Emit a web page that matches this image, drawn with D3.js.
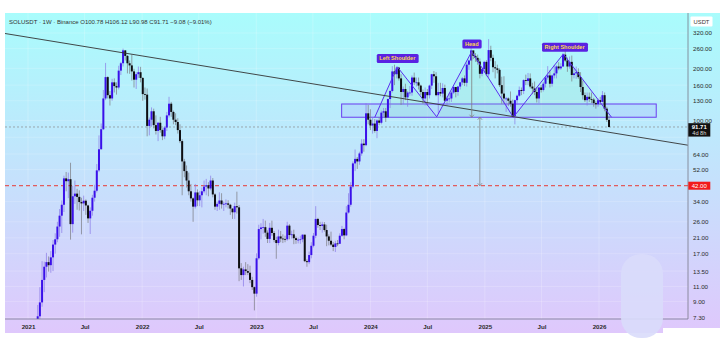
<!DOCTYPE html>
<html lang="en">
<head>
  <meta charset="UTF-8">
  <title>SOLUSDT 1W</title>
  <style>
    html, body { margin: 0; padding: 0; background: #fff; }
    svg { display: block; font-family: "Liberation Sans", Arial, sans-serif; }
    .axis text { fill: #2b2b2b; font-size: 6.2px; }
    .axis path, .axis line { stroke: none; }
    .tag { font-weight: bold; fill: #ffd84a; font-size: 5.6px; }
  </style>
</head>
<body>
  <div id="chart"></div>

  <script src="https://d3js.org/d3.v7.min.js"></script>
  <script>
    // weekly candles, first week starts Mon 2021-01-04, open = previous close
    const firstWeek = Date.UTC(2021, 0, 4);
    const firstOpen = 1.8;

    const closes = [
      // 2021
      3.4, 3.3, 3.7, 4.2, 7.4, 8.9, 12.0, 14.3, 15.2, 14.6, 16.2, 19.2, 20.6, 24.4, 28.2, 32.6, 46.3, 44.6, 45.8, 25.2,
      36.5, 37.8, 36.2, 33.8, 33.2, 34.4, 32.3, 27.2, 30.1, 35.8, 39.3, 51.5, 68.2, 89, 134, 178, 140, 134, 166, 158,
      155, 194, 214, 254, 236, 214, 208, 192, 172, 185, 190, 176,
      // 2022
      142, 141, 93, 101, 113, 94, 87, 97, 88, 81, 91, 107, 125, 112, 101, 98, 88, 76, 58, 51,
      45, 39, 35.5, 31.8, 38.4, 34.6, 37, 39, 41.5, 42.3, 40.5, 45, 37.4, 31.8, 33, 34.5, 32.8, 33, 33.2, 32.6,
      31, 29.5, 32, 31.5, 14, 12.8, 13.8, 13.5, 13.2, 12, 10.9, 10,
      // 2023
      16.0, 23.6, 24.1, 24.2, 22.5, 20.7, 24.0, 22.4, 20.4, 19.6, 21.4, 20.8, 20.7, 20.6, 24.7, 21.8, 22.0, 20.9, 20.4, 20.5,
      20.6, 21.9, 15.4, 15.2, 16.7, 18.9, 21.6, 27.0, 24.9, 24.6, 25.1, 23.3, 21.4, 20.2, 19.2, 18.6, 19.5, 19.4, 21.6, 23.6,
      21.7, 29.4, 32.6, 41.5, 56.5, 60, 58, 64.5, 73.5, 72, 110, 101,
      // 2024
      93.5, 96, 87, 100, 97, 111, 113, 104, 133, 148, 192, 185, 202, 175, 146, 152, 136, 145, 145, 177,
      166, 166, 159, 146, 134, 146, 140, 159, 185, 180, 140, 146, 143, 154, 130, 134, 134, 145, 156, 146,
      157, 166, 175, 165, 210, 222, 254, 236, 230, 219, 186, 198,
      // 2025
      218, 185, 255, 230, 203, 200, 196, 160, 143, 134, 134, 130, 125, 106, 131, 139, 150, 148, 171, 169,
      175, 157, 153, 146, 134, 155, 150, 163, 177, 182, 163, 182, 187, 205, 200, 205, 240, 222, 205, 218,
      183, 187, 190, 178, 156, 140, 131, 137, 133, 132, 126, 124, 131,
      // 2026
      128, 140, 117, 100.78, 91.71
    ];
    const highs = [
      4.2, 4.0, 4.1, 4.9, 8.6, 10.9, 15.4, 15.3, 17.2, 16.4, 17.6, 20.4, 22.3, 26.0, 30.8, 34.5, 48.0, 50.4, 50.0, 57.0,
      42.0, 45.0, 40.3, 39.5, 35.8, 36.8, 35.0, 32.6, 31.5, 37.2, 42.5, 56.0, 82.0, 96, 150, 215, 180, 148, 174, 175,
      166, 207, 218, 260, 254, 239, 222, 240, 199, 190, 205, 204,
      178, 155, 153, 104, 119, 117, 107, 98, 105, 90, 93, 112, 137, 128, 114, 110, 103, 95, 78, 60,
      55, 50, 43, 36, 43, 40, 39, 41, 45, 46, 44, 48, 46.5, 38, 34, 38.5, 38, 34, 35, 34.6,
      33, 31, 33.5, 38.8, 32.5, 15, 14.3, 15.2, 14.8, 14.5, 12.5, 11,
      17.1, 25.0, 25.5, 27.0, 26.4, 23.2, 25.6, 26.4, 23.0, 21.3, 23.4, 23.0, 22.0, 21.6, 26.0, 25.2, 23.1, 23.4, 21.4, 21.1,
      21.6, 22.0, 21.9, 15.8, 17.5, 19.8, 22.4, 32.0, 27.4, 26.0, 26.0, 25.9, 25.0, 22.0, 22.8, 19.9, 20.2, 20.4, 22.3, 24.6,
      24.0, 32.0, 38.0, 44.0, 58.0, 68, 61.5, 66, 78, 78, 126, 123,
      116, 104, 102, 102, 104, 114, 118, 118, 134, 150, 206, 210, 205, 204, 185, 157, 163, 148, 158, 182,
      189, 177, 177, 161, 151, 155, 152, 161, 186, 193, 190, 165, 165, 164, 161, 138, 144, 148, 159, 156,
      158, 167, 178, 182, 216, 225, 264, 250, 245, 240, 228, 202,
      221, 223, 295, 270, 240, 220, 210, 200, 179, 180, 137, 136, 147, 132, 132, 141, 157, 155, 173, 184,
      188, 187, 165, 168, 156, 156, 160, 167, 178, 206, 195, 184, 209, 208, 217, 214, 246, 253, 231, 234,
      237, 200, 205, 200, 190, 170, 145, 145, 145, 145, 135, 129, 134,
      137, 148, 145, 120, 106.12
    ];
    const lows = [
      1.8, 2.6, 2.9, 3.3, 4.0, 6.9, 8.4, 10.2, 12.4, 13.4, 13.2, 13.5, 17.0, 19.8, 21.3, 22.4, 29.6, 39.0, 35.6, 20.5,
      22.5, 33.0, 30.5, 30.2, 22.0, 30.0, 28.5, 25.6, 22.1, 28.2, 34.0, 38.4, 50.3, 68, 88, 131, 134, 122, 130, 145,
      141, 151, 183, 205, 222, 187, 186, 170, 155, 152, 176, 166,
      130, 132, 81, 82, 92, 90, 83, 76, 85, 77, 78, 87, 104, 105, 95, 94, 84, 74, 37, 47,
      41, 37, 34, 26, 31, 32, 32, 31.5, 38, 37, 36.5, 39.5, 36, 30.5, 30, 30.5, 31, 30, 31.5, 31,
      28.5, 27, 27, 29, 11.8, 12, 11, 12.8, 12.8, 11.5, 10.5, 8.0,
      9.6, 15.7, 20.6, 22.2, 21.3, 19.6, 19.6, 21.6, 19.8, 15.9, 19.0, 19.8, 19.6, 19.8, 20.2, 20.6, 20.8, 19.3, 19.4, 19.5,
      19.4, 19.8, 15.2, 14.3, 14.8, 16.0, 18.5, 20.9, 24.0, 23.3, 22.5, 22.8, 18.8, 19.0, 18.8, 17.6, 17.4, 18.8, 19.4, 21.3,
      20.6, 21.5, 29.0, 31.8, 40.5, 51, 52.5, 55.5, 62.5, 66, 71, 95,
      88, 84, 85, 79, 94, 95, 105, 98, 104, 118, 145, 160, 175, 170, 123, 124, 131, 120, 139, 139,
      160, 157, 151, 140, 125, 122, 122, 134, 152, 165, 138, 110, 138, 136, 128, 122, 127, 128, 142, 136,
      139, 151, 160, 158, 157, 196, 222, 226, 218, 210, 175, 180,
      188, 180, 176, 220, 190, 175, 187, 156, 125, 125, 112, 121, 120, 104, 95, 123, 137, 140, 142, 160,
      160, 153, 142, 140, 127, 126, 145, 147, 155, 172, 155, 157, 175, 175, 195, 196, 204, 218, 191, 199,
      168, 175, 174, 174, 146, 132, 128, 122, 128, 126, 120, 117, 120,
      123, 127, 113, 98, 90.98
    ];

    // price scale ticks on the right (42 is shown by its own red tag, 80 sits under the last price tag)
    const priceTicks = [320, 260, 200, 160, 130, 100, 64, 52, 34, 26, 21, 17, 13.5, 11, 9, 7.3];
    const gridPrices = [320, 260, 200, 160, 130, 100, 80, 64, 52, 42, 34, 26, 21, 17, 13.5, 11, 9, 7.3];
    const timeTicks = ["2021-01-01", "2021-07-01", "2022-01-01", "2022-07-01", "2023-01-01", "2023-07-01",
                       "2024-01-01", "2024-07-01", "2025-01-01", "2025-07-01", "2026-01-01"];
    const timeLabels = ["2021", "Jul", "2022", "Jul", "2023", "Jul", "2024", "Jul", "2025", "Jul", "2026"];

    // drawings
    const trendDates = ["2020-10-19", "2026-10-12"];
    const trendPrices = [318, 72];
    const hsDates = ["2024-01-15", "2024-03-27", "2024-07-31", "2024-11-20", "2025-04-02", "2025-09-09", "2026-02-10"];
    const hsPrices = [104.4, 204, 105, 250, 104.4, 242, 104.4];
    const boxDates = ["2023-10-01", "2026-07-03"];
    const boxPrices = [104.4, 124.5];
    const tagTexts = ["Left Shoulder", "Head", "Right Shoulder"];
    const tagDates = ["2024-03-27", "2024-11-20", "2025-09-13"];
    const tagPrices = [228, 276, 265];
    const arrowDates = ["2024-11-20", "2024-12-16"];
    const arrowFrom = [250, 104.4];
    const arrowTo = [104.4, 42];
    const lastPrice = 91.71;
    const targetPrice = 42;

    const W = 720, H = 363;
    const plot = { left: 5, top: 13, right: 688, bottom: 319 };

    const svg = d3.select("#chart").append("svg")
      .attr("width", W).attr("height", H);

    const defs = svg.append("defs");
    const grad = defs.append("linearGradient").attr("id", "bg")
      .attr("x1", 0).attr("y1", 0).attr("x2", 0).attr("y2", 1);
    grad.append("stop").attr("offset", "0%").attr("stop-color", "#a9fcfc");
    grad.append("stop").attr("offset", "50%").attr("stop-color", "#c4e2fc");
    grad.append("stop").attr("offset", "100%").attr("stop-color", "#dfc8fc");
    defs.append("clipPath").attr("id", "clip").append("rect")
      .attr("x", plot.left).attr("y", plot.top)
      .attr("width", plot.right - plot.left).attr("height", plot.bottom - plot.top);

    svg.append("rect").attr("x", 5).attr("y", 13).attr("width", W - 5).attr("height", 320)
      .attr("fill", "url(#bg)");

    const parse = d => new Date(d + "T00:00:00Z");
    const x = d3.scaleUtc()
      .domain([parse("2021-01-01"), parse("2026-01-01")])
      .range([28, 599]);
    const y = d3.scaleLog()
      .domain([7.3, 320])
      .range([317.3, 33]);

    const candles = closes.map((c, i) => ({
      date: new Date(firstWeek + i * 7 * 864e5),
      open: i === 0 ? firstOpen : closes[i - 1],
      high: highs[i],
      low: lows[i],
      close: c
    }));

    // faint grid
    const grid = svg.append("g").attr("clip-path", "url(#clip)");
    grid.selectAll("line.v").data(timeTicks).join("line")
      .attr("x1", d => x(parse(d))).attr("x2", d => x(parse(d)))
      .attr("y1", plot.top).attr("y2", plot.bottom)
      .attr("stroke", "#ffffff").attr("stroke-opacity", 0.35).attr("stroke-width", 0.6);
    grid.selectAll("line.h").data(gridPrices).join("line")
      .attr("x1", plot.left).attr("x2", plot.right)
      .attr("y1", d => y(d)).attr("y2", d => y(d))
      .attr("stroke", "#ffffff").attr("stroke-opacity", 0.3).attr("stroke-width", 0.6);

    const g = svg.append("g").attr("clip-path", "url(#clip)");

    // neckline zone
    g.append("rect")
      .attr("x", x(parse(boxDates[0])))
      .attr("y", y(boxPrices[1]))
      .attr("width", x(parse(boxDates[1])) - x(parse(boxDates[0])))
      .attr("height", y(boxPrices[0]) - y(boxPrices[1]))
      .attr("fill", "#9aa8ff").attr("fill-opacity", 0.22)
      .attr("stroke", "#6a3cf0").attr("stroke-width", 1);

    // head & shoulders fill + zigzag
    const hsPts = hsDates.map((d, i) => [x(parse(d)), y(hsPrices[i])]);
    g.append("path")
      .attr("d", d3.line()(hsPts) + "Z")
      .attr("fill", "#7fe6c4").attr("fill-opacity", 0.18);

    // price lines
    g.append("line")
      .attr("x1", plot.left).attr("x2", plot.right)
      .attr("y1", y(lastPrice)).attr("y2", y(lastPrice))
      .attr("stroke", "#8a8a8a").attr("stroke-width", 0.7).attr("stroke-dasharray", "2,2");
    g.append("line")
      .attr("x1", plot.left).attr("x2", plot.right)
      .attr("y1", y(targetPrice)).attr("y2", y(targetPrice))
      .attr("stroke", "#e53935").attr("stroke-width", 1).attr("stroke-dasharray", "4,3");

    // candles
    const cg = g.append("g");
    cg.selectAll("line.wick").data(candles).join("line")
      .attr("x1", d => x(d.date)).attr("x2", d => x(d.date))
      .attr("y1", d => y(d.high)).attr("y2", d => y(d.low))
      .attr("stroke", d => d.close >= d.open ? "#8a7ae6" : "#7a7a80")
      .attr("stroke-width", 0.7);
    cg.selectAll("rect.body").data(candles).join("rect")
      .attr("x", d => x(d.date) - 1)
      .attr("width", 2)
      .attr("y", d => y(Math.max(d.open, d.close)))
      .attr("height", d => Math.max(0.8, Math.abs(y(d.open) - y(d.close))))
      .attr("fill", d => d.close >= d.open ? "#3a10ea" : "#0e0e12");

    // zigzag on top
    g.append("path")
      .attr("d", d3.line()(hsPts))
      .attr("fill", "none").attr("stroke", "#5b2ef0").attr("stroke-width", 1);

    // long trendline
    g.append("line")
      .attr("x1", x(parse(trendDates[0]))).attr("y1", y(trendPrices[0]))
      .attr("x2", x(parse(trendDates[1]))).attr("y2", y(trendPrices[1]))
      .attr("stroke", "#333").attr("stroke-width", 0.9);

    // measuring arrows
    arrowDates.forEach((d, i) => {
      const ax = x(parse(d)), y1 = y(arrowFrom[i]), y2 = y(arrowTo[i]);
      g.append("line").attr("x1", ax).attr("x2", ax).attr("y1", y1).attr("y2", y2)
        .attr("stroke", "#808080").attr("stroke-width", 0.8);
      g.append("path").attr("d", `M${ax - 2.2},${y2 - 2.5}L${ax},${y2}L${ax + 2.2},${y2 - 2.5}`)
        .attr("fill", "none").attr("stroke", "#808080").attr("stroke-width", 0.8);
      if (i === 1) {
        g.append("path").attr("d", `M${ax - 2.2},${y1 + 2.5}L${ax},${y1}L${ax + 2.2},${y1 + 2.5}`)
          .attr("fill", "none").attr("stroke", "#808080").attr("stroke-width", 0.8);
      }
    });

    // pattern tags
    tagTexts.forEach((t, i) => {
      const tx = x(parse(tagDates[i])), ty = y(tagPrices[i]);
      const tg = svg.append("g");
      const txt = tg.append("text").attr("class", "tag")
        .attr("x", tx).attr("y", ty + 2).attr("text-anchor", "middle").text(t);
      const bb = txt.node().getBBox();
      tg.insert("rect", "text")
        .attr("x", bb.x - 2.5).attr("y", ty - 4.5)
        .attr("width", bb.width + 5).attr("height", 9).attr("rx", 1.5)
        .attr("fill", "#5a22e2");
    });

    // x axis
    svg.append("line")
      .attr("x1", plot.left).attr("x2", plot.right)
      .attr("y1", plot.bottom).attr("y2", plot.bottom)
      .attr("stroke", "#7a7890").attr("stroke-width", 0.8);
    const xAxis = svg.append("g").attr("class", "axis")
      .attr("transform", `translate(0,${plot.bottom})`)
      .call(d3.axisBottom(x).tickValues(timeTicks.map(parse)).tickSize(0).tickPadding(6)
        .tickFormat((d, i) => timeLabels[i]));
    xAxis.selectAll("text").attr("font-weight", "bold").attr("fill", "#3a3a4a");

    // y axis
    svg.append("line")
      .attr("x1", plot.right).attr("x2", plot.right)
      .attr("y1", plot.top).attr("y2", plot.bottom)
      .attr("stroke", "#7a7a88").attr("stroke-width", 0.8);
    svg.append("g").attr("class", "axis")
      .attr("transform", `translate(${plot.right},0)`)
      .call(d3.axisRight(y).tickValues(priceTicks).tickSize(0).tickPadding(5)
        .tickFormat(d3.format(".2f")));

    // USDT tag
    svg.append("rect").attr("x", 690.5).attr("y", 16.5).attr("width", 22).attr("height", 10)
      .attr("fill", "#fff").attr("rx", 1);
    svg.append("text").attr("x", 701.5).attr("y", 23.6).attr("text-anchor", "middle")
      .attr("font-size", 5.8).attr("fill", "#333").text("USDT");

    // last price label
    svg.append("rect").attr("x", 688.3).attr("y", y(lastPrice) - 3.8).attr("width", 22).attr("height", 13.4)
      .attr("fill", "#111");
    svg.append("text").attr("x", 699.3).attr("y", y(lastPrice) + 1.8).attr("text-anchor", "middle")
      .attr("font-size", 6).attr("font-weight", "bold").attr("fill", "#fff").text(d3.format(".2f")(lastPrice));
    svg.append("text").attr("x", 699.3).attr("y", y(lastPrice) + 8).attr("text-anchor", "middle")
      .attr("font-size", 5.6).attr("fill", "#ddd").text("4d 8h");

    // target label
    svg.append("rect").attr("x", 688.3).attr("y", y(targetPrice) - 4).attr("width", 22).attr("height", 8)
      .attr("fill", "#f21b1b");
    svg.append("text").attr("x", 699.3).attr("y", y(targetPrice) + 2.1).attr("text-anchor", "middle")
      .attr("font-size", 6).attr("fill", "#fff").text(d3.format(".2f")(targetPrice));

    // pale blob at bottom right
    svg.append("rect").attr("x", 621).attr("y", 254).attr("width", 42).attr("height", 84).attr("rx", 20)
      .attr("fill", "#d9dcfb").attr("fill-opacity", 0.9);
    svg.append("rect").attr("x", 663).attr("y", 328).attr("width", 57).attr("height", 35).attr("fill", "#fff");

    // title
    svg.append("text").attr("x", 9).attr("y", 23.5)
      .attr("font-size", 6).attr("fill", "#333")
      .text("SOLUSDT · 1W · Binance   O100.78  H106.12  L90.98  C91.71  −9.08 (−9.01%)");
  </script>
</body>
</html>
